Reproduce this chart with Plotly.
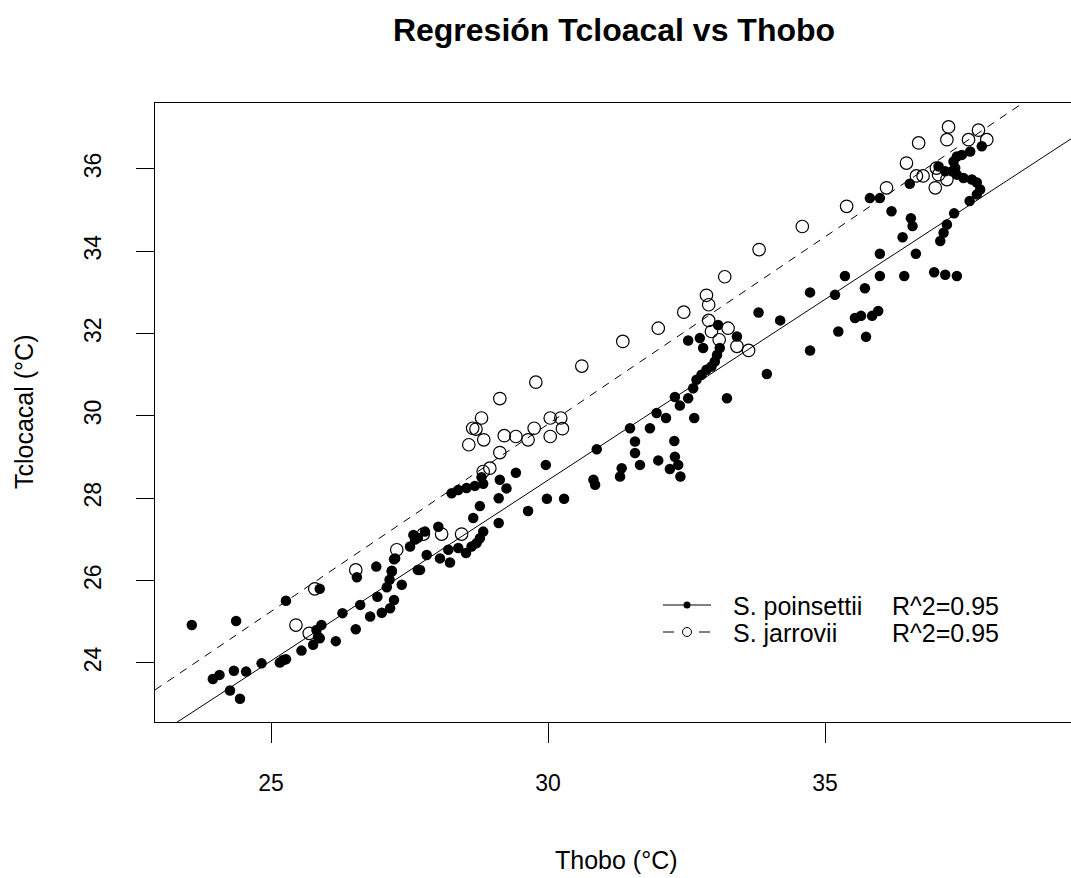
import numpy as np
import plotly.graph_objects as go

# ---------------- data ----------------
title_text = "Regresión Tcloacal vs Thobo"
x_label = "Thobo (°C)"
y_label = "Tclocacal (°C)"
x_ticks = [25, 30, 35]
y_ticks = [24, 26, 28, 30, 32, 34, 36]
species = ["S. poinsettii", "S. jarrovii"]
r2_labels = ["R^2=0.95", "R^2=0.95"]

po_x = [23.57, 24.37, 23.95, 24.07, 24.26, 24.44, 24.33, 24.55, 24.83, 25.16,
        25.22, 25.27, 25.27, 25.55, 25.76, 25.82, 25.85, 25.88, 25.91, 25.88,
        26.17, 26.29, 26.53, 26.55, 26.61, 26.79, 26.90, 27.00, 27.15, 27.22,
        26.92, 27.09, 27.14, 27.18, 27.22, 27.36, 27.51, 27.60, 27.65, 27.65,
        27.78, 28.02, 27.81, 28.05, 28.23, 28.20, 28.38, 28.52, 28.62, 28.71,
        28.77, 28.83, 28.65, 28.77, 29.11, 29.11, 29.64, 29.98, 30.29, 29.96,
        29.42, 29.25, 29.13, 28.26, 28.38, 28.53, 28.68, 28.83, 28.80, 30.88,
        30.82, 30.85, 31.30, 31.33, 31.48, 31.57, 31.57, 31.66, 31.84, 31.96,
        32.13, 31.99, 32.20, 32.29, 32.28, 32.35, 32.39, 32.64, 32.29, 32.38,
        32.53, 32.62, 32.68, 32.77, 32.86, 32.95, 33.01, 33.05, 33.10, 32.53,
        32.74, 32.80, 33.07, 33.41, 33.23, 33.95, 33.80, 34.19, 34.73, 34.73,
        35.18, 35.24, 35.54, 35.65, 35.74, 35.85, 35.96, 35.72, 35.36, 35.99,
        36.43, 36.97, 37.17, 37.38, 35.99, 36.64, 36.40, 36.20, 36.55, 36.58,
        35.81, 35.99, 36.53, 37.08, 37.14, 37.20, 37.33, 37.61, 37.74, 37.80,
        37.74, 37.65, 37.50, 37.38, 37.35, 37.32, 37.38, 37.47, 37.62, 37.83,
        37.05, 37.17, 37.29, 27.24, 27.18, 27.69, 27.57]
po_y = [24.92, 25.02, 23.61, 23.71, 23.33, 23.13, 23.81, 23.79, 23.99, 24.01,
        24.07, 24.09, 25.51, 24.30, 24.44, 24.80, 24.64, 24.60, 24.92, 25.80,
        24.53, 25.21, 24.82, 26.08, 25.41, 25.13, 26.34, 25.22, 25.33, 25.53,
        25.61, 25.84, 26.02, 26.24, 26.52, 25.90, 26.83, 27.00, 27.04, 26.26,
        27.19, 27.31, 26.62, 26.54, 26.44, 26.75, 26.79, 26.67, 26.83, 26.91,
        27.03, 27.19, 27.52, 27.81, 27.40, 28.00, 27.69, 27.99, 27.99, 28.81,
        28.62, 28.24, 28.45, 28.12, 28.20, 28.25, 28.30, 28.35, 28.51, 29.19,
        28.45, 28.33, 28.53, 28.73, 29.70, 29.38, 29.10, 28.81, 29.70, 30.07,
        29.95, 28.92, 28.71, 29.01, 29.39, 28.81, 28.53, 29.95, 30.46, 30.25,
        30.43, 30.67, 30.88, 31.00, 31.12, 31.20, 31.32, 31.48, 31.65, 31.83,
        31.89, 31.65, 32.21, 31.93, 30.43, 31.02, 32.51, 32.32, 31.59, 33.00,
        32.94, 32.05, 32.38, 32.43, 31.92, 32.43, 32.55, 33.10, 33.40, 33.40,
        33.40, 33.49, 33.43, 33.40, 33.94, 33.94, 34.34, 34.97, 34.80, 34.61,
        35.29, 35.29, 35.64, 34.25, 34.45, 34.65, 34.92, 35.22, 35.38, 35.50,
        35.67, 35.74, 35.78, 35.86, 36.02, 36.18, 36.30, 36.34, 36.42, 36.55,
        36.06, 35.94, 35.94, 26.54, 26.22, 26.26, 27.11]

ja_x = [25.45, 25.69, 25.79, 26.53, 27.27, 27.75, 28.08, 28.44, 28.83, 28.95,
        29.13, 28.57, 28.84, 28.64, 28.70, 28.80, 29.21, 29.42, 29.64, 29.75,
        30.04, 30.23, 30.26, 30.04, 29.13, 29.78, 30.61, 31.35, 31.99, 32.45,
        32.86, 32.90, 32.90, 32.95, 33.25, 33.09, 33.41, 33.62, 33.19, 33.81,
        34.59, 35.39, 36.11, 36.47, 36.69, 37.23, 37.20, 37.59, 37.77, 37.92,
        36.65, 36.77, 36.99, 37.05, 37.20, 37.01]
ja_y = [24.92, 24.72, 25.80, 26.26, 26.75, 27.13, 27.13, 27.13, 28.65, 28.73,
        29.11, 29.30, 29.42, 29.70, 29.68, 29.95, 29.52, 29.50, 29.42, 29.70,
        29.95, 29.95, 29.69, 29.50, 30.42, 30.82, 31.21, 31.81, 32.13, 32.52,
        32.93, 32.70, 32.32, 32.05, 32.13, 31.85, 31.69, 31.59, 33.38, 34.04,
        34.60, 35.09, 35.54, 36.14, 36.63, 37.02, 36.71, 36.71, 36.94, 36.71,
        35.83, 35.83, 35.54, 35.86, 35.74, 36.02]

# fitted regression lines (intercept, slope)
po_intercept, po_slope = 2.10, 0.878
ja_intercept, ja_slope = 2.50, 0.910

# ---------------- layout geometry ----------------
W, H = 1071, 878
L, R, T, B = 155, 1071, 103, 722
x_range = [22.906, 39.44]
y_range = [22.566, 37.6]
FONT = "Liberation Sans, Arial, sans-serif"


def px(xp):
    return (xp - L) / (R - L)


def py(yp):
    return (B - yp) / (B - T)


fig = go.Figure()

line_x = np.array(x_range)
fig.add_trace(go.Scatter(x=line_x, y=po_intercept + po_slope * line_x, mode="lines",
                         line=dict(color="black", width=1), showlegend=False,
                         hoverinfo="skip"))
fig.add_trace(go.Scatter(x=line_x, y=ja_intercept + ja_slope * line_x, mode="lines",
                         line=dict(color="black", width=1, dash="8px,7px"),
                         showlegend=False, hoverinfo="skip"))
fig.add_trace(go.Scatter(x=po_x, y=po_y, mode="markers", name=species[0],
                         marker=dict(symbol="circle", size=10.5, color="black",
                                     line=dict(width=0)), showlegend=False))
fig.add_trace(go.Scatter(x=ja_x, y=ja_y, mode="markers", name=species[1],
                         marker=dict(symbol="circle-open", size=12.5, color="black",
                                     line=dict(width=1.2, color="black")),
                         showlegend=False))

shapes = []
annotations = []

# manual legend (bottom right)
rows = [605, 632]
# row 1: solid line with filled dot
shapes.append(dict(type="line", xref="paper", yref="paper", x0=px(663), x1=px(711),
                   y0=py(rows[0]), y1=py(rows[0]), line=dict(color="black", width=1)))
shapes.append(dict(type="circle", xref="paper", yref="paper", xsizemode="pixel",
                   ysizemode="pixel", xanchor=px(687), yanchor=py(rows[0]),
                   x0=-3.5, x1=3.5, y0=-3.5, y1=3.5, fillcolor="black",
                   line=dict(color="black", width=0)))
# row 2: dashed line with open circle
shapes.append(dict(type="line", xref="paper", yref="paper", x0=px(663), x1=px(674),
                   y0=py(rows[1]), y1=py(rows[1]), line=dict(color="black", width=1)))
shapes.append(dict(type="line", xref="paper", yref="paper", x0=px(699), x1=px(710),
                   y0=py(rows[1]), y1=py(rows[1]), line=dict(color="black", width=1)))
shapes.append(dict(type="circle", xref="paper", yref="paper", xsizemode="pixel",
                   ysizemode="pixel", xanchor=px(687), yanchor=py(rows[1]),
                   x0=-4.5, x1=4.5, y0=-4.5, y1=4.5, fillcolor="white",
                   line=dict(color="black", width=1)))
for i, yrow in enumerate(rows):
    annotations.append(dict(text=species[i], xref="paper", yref="paper", x=px(731),
                            y=py(yrow + 1), xanchor="left", yanchor="middle",
                            showarrow=False, font=dict(family=FONT, size=25, color="black")))
    annotations.append(dict(text=r2_labels[i], xref="paper", yref="paper", x=px(890),
                            y=py(yrow + 1), xanchor="left", yanchor="middle",
                            showarrow=False, font=dict(family=FONT, size=25, color="black")))

# axis titles
annotations.append(dict(text=x_label, xref="paper", yref="paper", x=px(616), y=py(860),
                        xanchor="center", yanchor="middle", showarrow=False,
                        font=dict(family=FONT, size=25, color="black")))
annotations.append(dict(text=y_label, xref="paper", yref="paper", x=px(24), y=py(412),
                        xanchor="center", yanchor="middle", showarrow=False, textangle=-90,
                        font=dict(family=FONT, size=25, color="black")))

fig.update_layout(
    width=W, height=H,
    margin=dict(l=L, r=W - R, t=T, b=H - B, pad=0),
    paper_bgcolor="white", plot_bgcolor="white",
    title=dict(text="<b>" + title_text + "</b>", x=614 / W, xanchor="center",
               y=1 - 30 / H, yanchor="middle", font=dict(family=FONT, size=32, color="black")),
    shapes=shapes, annotations=annotations,
    showlegend=False,
    font=dict(family=FONT, color="black"),
)
fig.update_xaxes(range=x_range, tickvals=x_ticks, ticktext=[str(v) for v in x_ticks],
                 ticks="outside", ticklen=20, tickwidth=1, tickcolor="black",
                 showline=True, linecolor="black", linewidth=1, mirror=True,
                 showgrid=False, zeroline=False, automargin=False,
                 ticklabelstandoff=20,
                 tickfont=dict(family=FONT, size=23, color="black"))
fig.update_yaxes(range=y_range, tickvals=y_ticks, ticktext=[str(v) for v in y_ticks],
                 ticks="outside", ticklen=18, tickwidth=1, tickcolor="black",
                 showline=True, linecolor="black", linewidth=1, mirror=False,
                 showgrid=False, zeroline=False, automargin=False, tickangle=-90,
                 ticklabelstandoff=26,
                 tickfont=dict(family=FONT, size=23, color="black"))

fig.write_html("out.html")
